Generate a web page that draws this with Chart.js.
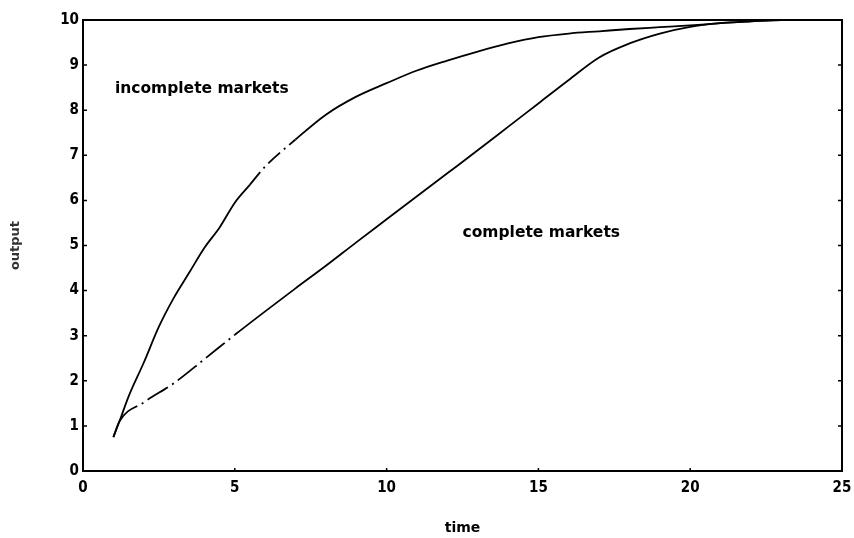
<!DOCTYPE html>
<html>
<head>
<meta charset="utf-8">
<script src="https://cdn.jsdelivr.net/npm/chart.js@4/dist/chart.umd.min.js"></script>
<style>
  html, body { margin: 0; padding: 0; background: #fff; }
  canvas { display: block; }
</style>
</head>
<body>
<canvas id="chart" width="854" height="538"></canvas>
<script>
// Output paths over time under the two market structures
const incompleteTime   = [1, 1.2, 1.5, 2, 2.5, 3, 3.5, 4, 4.5, 5, 5.5, 6, 7, 8, 9, 10, 11, 12, 13, 14, 15, 16, 17, 18, 19, 20, 21, 22, 23, 25];
const incompleteOutput = [0.75, 1.1, 1.65, 2.4, 3.2, 3.85, 4.4, 4.95, 5.4, 5.95, 6.35, 6.75, 7.35, 7.9, 8.3, 8.6, 8.88, 9.1, 9.3, 9.48, 9.62, 9.7, 9.75, 9.8, 9.84, 9.88, 9.93, 9.97, 10, 10];

const completeTime   = [1, 1.2, 2, 3, 4, 5, 6, 7, 8, 9, 10, 11, 12, 13, 14, 15, 16, 17, 18, 19, 20, 21, 22, 23, 25];
const completeOutput = [0.75, 1.1, 1.52, 1.95, 2.48, 3.02, 3.54, 4.05, 4.55, 5.07, 5.58, 6.09, 6.6, 7.11, 7.63, 8.15, 8.67, 9.17, 9.48, 9.7, 9.85, 9.93, 9.97, 10, 10];

// Curve captions and where they sit (time, output)
const captionText   = ['incomplete markets', 'complete markets'];
const captionTime   = [1.05, 12.5];
const captionOutput = [8.47, 5.27];

const axisTitleX = 'time';
const axisTitleY = 'output';

const toPoints = (xs, ys) => xs.map((x, i) => ({ x: x, y: ys[i] }));

const tickFont = { family: "'DejaVu Sans Condensed', 'DejaVu Sans', sans-serif", size: 15, weight: 'bold' };

// Closed frame with short inward tick marks
const framePlugin = {
  id: 'frame',
  afterDatasetsDraw(chart) {
    const { ctx, chartArea: a, scales } = chart;
    ctx.save();
    ctx.strokeStyle = '#000';
    ctx.lineWidth = 2;
    ctx.strokeRect(a.left, a.top, a.right - a.left, a.bottom - a.top);
    ctx.lineWidth = 1.5;
    ctx.beginPath();
    scales.y.ticks.forEach((t, i) => {
      const py = scales.y.getPixelForTick(i);
      ctx.moveTo(a.left, py); ctx.lineTo(a.left + 4, py);
      ctx.moveTo(a.right, py); ctx.lineTo(a.right - 4, py);
    });
    scales.x.ticks.forEach((t, i) => {
      const px = scales.x.getPixelForTick(i);
      ctx.moveTo(px, a.bottom); ctx.lineTo(px, a.bottom - 3);
    });
    ctx.stroke();
    ctx.restore();
  }
};

// Text captions placed in data coordinates
const captionPlugin = {
  id: 'captions',
  afterDatasetsDraw(chart) {
    const { ctx, scales } = chart;
    ctx.save();
    ctx.fillStyle = '#000';
    ctx.font = "bold 15.5px 'DejaVu Sans', sans-serif";
    ctx.textAlign = 'left';
    ctx.textBaseline = 'middle';
    captionText.forEach((txt, i) => {
      ctx.fillText(txt, scales.x.getPixelForValue(captionTime[i]), scales.y.getPixelForValue(captionOutput[i]));
    });
    ctx.restore();
  }
};

const dashBetween = (lo, hi, pattern) => ctx => {
  const x0 = ctx.p0.parsed.x;
  return (x0 >= lo && x0 < hi) ? pattern : undefined;
};

new Chart(document.getElementById('chart'), {
  type: 'line',
  data: {
    datasets: [
      {
        label: captionText[0],
        data: toPoints(incompleteTime, incompleteOutput),
        borderColor: '#000',
        borderWidth: 1.8,
        pointRadius: 0,
        cubicInterpolationMode: 'monotone',
        segment: { borderDash: dashBetween(5.5, 7, [16, 5, 2, 5]) }
      },
      {
        label: captionText[1],
        data: toPoints(completeTime, completeOutput),
        borderColor: '#000',
        borderWidth: 1.8,
        pointRadius: 0,
        cubicInterpolationMode: 'monotone',
        segment: { borderDash: dashBetween(1.2, 5, [24, 5, 2, 5]) }
      }
    ]
  },
  options: {
    responsive: false,
    animation: false,
    layout: { padding: { top: 20, right: 12, left: 0, bottom: 0 } },
    plugins: { legend: { display: false }, tooltip: { enabled: false } },
    scales: {
      x: {
        type: 'linear',
        min: 0, max: 25,
        border: { display: false },
        grid: { display: false, drawTicks: false },
        ticks: { stepSize: 5, color: '#000', font: tickFont, padding: 8, maxRotation: 0 },
        title: {
          display: true, text: axisTitleX, color: '#000',
          font: { family: "'DejaVu Sans', sans-serif", size: 14, weight: 'bold' },
          padding: { top: 0, bottom: 1 }
        },
        afterFit(scale) {
          scale.height = 67;
          scale.paddingLeft = 0;
          scale.paddingRight = 0;
        }
      },
      y: {
        type: 'linear',
        min: 0, max: 10,
        border: { display: false },
        grid: { display: false, drawTicks: false },
        ticks: { stepSize: 1, color: '#000', font: tickFont, padding: 4 },
        title: {
          display: true, text: axisTitleY, color: '#333',
          font: { family: "'DejaVu Sans', sans-serif", size: 13, weight: 'bold' },
          padding: { top: 8, bottom: 0 }
        },
        afterFit(scale) {
          scale.width = 83;
          scale.paddingTop = 0;
          scale.paddingBottom = 0;
        }
      }
    }
  },
  plugins: [framePlugin, captionPlugin]
});
</script>
</body>
</html>
